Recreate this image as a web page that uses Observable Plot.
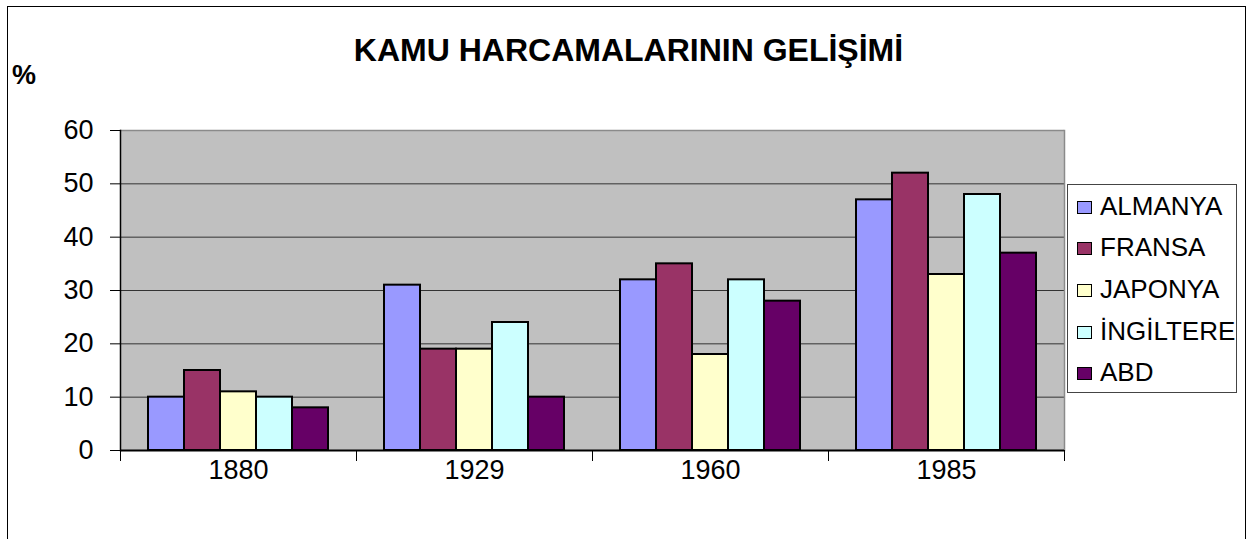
<!DOCTYPE html>
<html><head><meta charset="utf-8">
<script src="https://cdn.jsdelivr.net/npm/d3@7"></script>
<script src="https://cdn.jsdelivr.net/npm/@observablehq/plot@0.6"></script>
<style>
html,body{margin:0;padding:0;background:#fff;}
body{width:1250px;height:539px;position:relative;overflow:hidden;font-family:"Liberation Sans",Arial,sans-serif;color:#000;}
#chart{position:absolute;left:0;top:0;}
#outer{position:absolute;left:7px;top:6px;width:1239px;height:560px;border:1px solid #000;box-sizing:border-box;}
#title{position:absolute;left:0;width:1257px;top:34px;text-align:center;font-weight:bold;font-size:32px;line-height:32px;white-space:nowrap;}
#pct{position:absolute;left:12px;top:62px;font-weight:bold;font-size:27px;line-height:27px;}
#legend{position:absolute;left:1067px;top:184px;width:170px;height:209px;border:1px solid #444;box-sizing:border-box;background:#fff;}
.row{height:41.6px;display:flex;align-items:center;}
.sw{width:13px;height:11px;border:1px solid #000;margin-left:9px;margin-right:8px;margin-top:3px;flex:none;}
.lab{font-size:26px;line-height:26px;white-space:nowrap;}
</style>
</head><body>
<div id="outer"></div>
<div id="chart"></div>
<div id="title">KAMU HARCAMALARININ GELİŞİMİ</div>
<div id="pct">%</div>
<div id="legend"></div>
<script>
const years = ["1880", "1929", "1960", "1985"];
const countries = ["ALMANYA", "FRANSA", "JAPONYA", "İNGİLTERE", "ABD"];
const colors = ["#9999ff", "#993366", "#ffffcc", "#ccffff", "#660066"];
const almanya = [10, 31, 32, 47];
const fransa = [15, 19, 35, 52];
const japonya = [11, 19, 18, 33];
const ingiltere = [10, 24, 32, 48];
const abd = [8, 10, 28, 37];
const yTicks = [0, 10, 20, 30, 40, 50, 60];

const series = [almanya, fransa, japonya, ingiltere, abd];
const data = [];
years.forEach((yr, i) => countries.forEach((c, j) => data.push({year: yr, country: c, value: series[j][i]})));

const W = 1250, H = 539, MT = 130, MB = 89, ML = 120, MR = 186;
const font = '"Liberation Sans", Arial, sans-serif';

const plot = Plot.plot({
  width: W, height: H,
  marginLeft: ML, marginRight: MR, marginTop: MT, marginBottom: MB,
  style: {fontFamily: font, background: "transparent", overflow: "visible", color: "#000"},
  fx: {domain: years, padding: 0, axis: null, label: null},
  x: {domain: countries, paddingInner: 0, paddingOuter: 0.72, axis: null},
  y: {domain: [0, 60], axis: null},
  color: {domain: countries, range: colors},
  marks: [
    Plot.frame({fill: "#c0c0c0", stroke: null, shapeRendering: "crispEdges"}),
    Plot.gridY(yTicks.filter(t => t > 0 && t < 60), {stroke: "#333", strokeOpacity: 1}),
    Plot.gridY([60], {stroke: "#8a8a8a", strokeOpacity: 1, strokeWidth: 1.5}),
    Plot.frame({anchor: "right", stroke: "#8a8a8a", strokeWidth: 1.5, facetAnchor: "right"}),
    Plot.barY(data, {fx: "year", x: "country", y: "value", fill: "country", stroke: "#000", strokeWidth: 2}),
    Plot.ruleY([0], {stroke: "#000", strokeWidth: 2}),
    Plot.frame({anchor: "left", stroke: "#000", strokeWidth: 1.5, facetAnchor: "left"}),
    Plot.frame({anchor: "left", stroke: "#000", insetTop: H - MT - MB, insetBottom: -10}),
    Plot.frame({anchor: "right", stroke: "#000", insetTop: H - MT - MB, insetBottom: -10}),
    Plot.axisY(yTicks, {tickSize: 10, tickPadding: 17, fontSize: 27, label: null, stroke: "#000"}),
    Plot.axisFx({anchor: "bottom", tickSize: 0, tickPadding: 9, fontSize: 27, label: null})
  ]
});
document.getElementById("chart").appendChild(plot);

const legend = document.getElementById("legend");
countries.forEach((c, i) => {
  const row = document.createElement("div");
  row.className = "row";
  const sw = document.createElement("div");
  sw.className = "sw";
  sw.style.background = colors[i];
  const lab = document.createElement("div");
  lab.className = "lab";
  lab.textContent = c;
  row.appendChild(sw); row.appendChild(lab);
  legend.appendChild(row);
});
</script>
</body></html>
